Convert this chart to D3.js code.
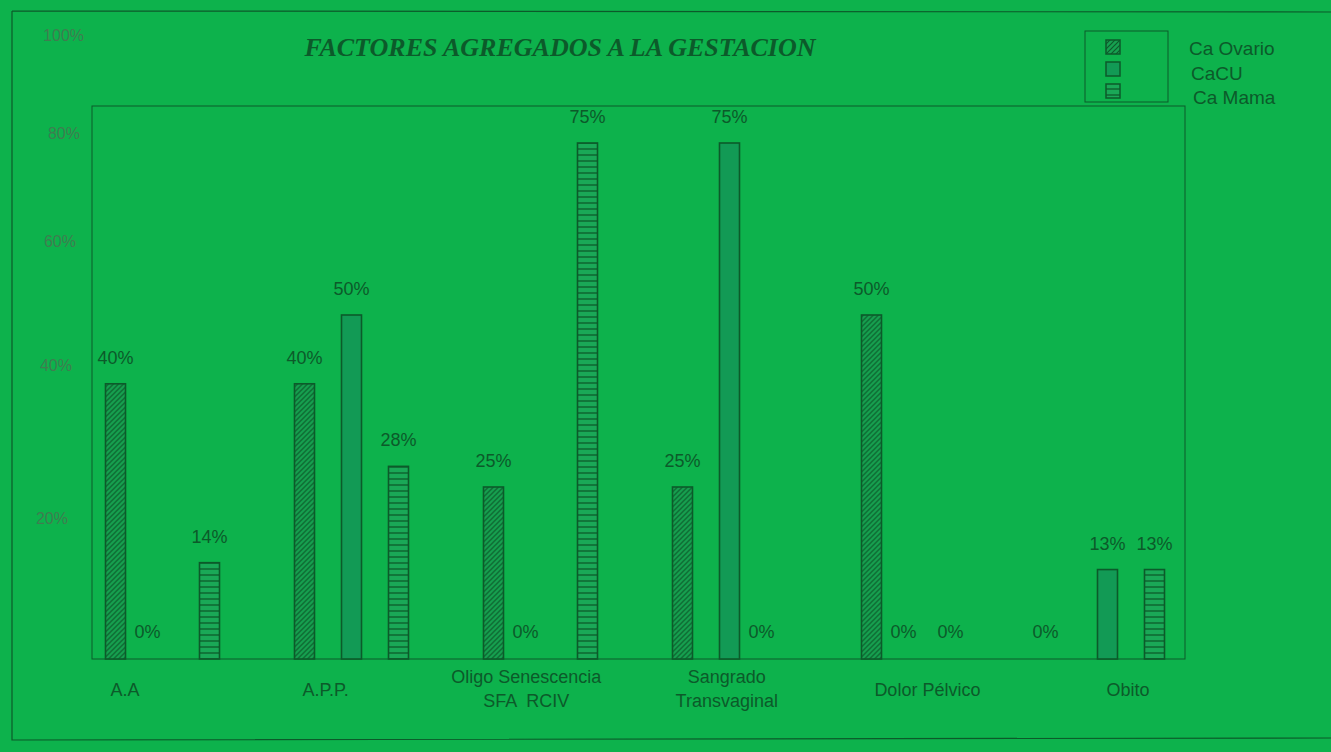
<!DOCTYPE html>
<html>
<head>
<meta charset="utf-8">
<script src="https://cdn.jsdelivr.net/npm/d3@7"></script>
<style>
    body { margin: 0; background: #0db24c; }
    text { font-family: "Liberation Sans", Arial, sans-serif; white-space: pre; }
</style>
</head>
<body>
<svg id="canvas"></svg>
<script>
// ########## Data ##########
var categories = ["A.A", "A.P.P.", "Oligo Senescencia|SFA  RCIV", "Sangrado|Transvaginal", "Dolor Pélvico", "Obito"];
var series = ["Ca Ovario", "CaCU", "Ca Mama"];
var caOvario = [40, 40, 25, 25, 50, 0];
var caCU = [0, 50, 0, 75, 0, 13];
var caMama = [14, 28, 75, 0, 0, 13];
var tickLabels = [20, 40, 60, 80, 100];

var w = 1331, h = 752;
var dark = "#0c5a2a";

var svg = d3.select("#canvas")
    .attr("width", w)
    .attr("height", h);

svg.append("rect")
    .attr("width", w).attr("height", h)
    .attr("fill", "#0db24c");

// ########## Patterns ##########
var defs = svg.append("defs");

var diag = defs.append("pattern")
    .attr("id", "pat-ovario")
    .attr("patternUnits", "userSpaceOnUse")
    .attr("width", 5).attr("height", 5);
diag.append("rect").attr("width", 5).attr("height", 5).attr("fill", "#16a150");
diag.append("path")
    .attr("d", "M-1,1 l2,-2 M0,5 l5,-5 M4,6 l2,-2")
    .attr("stroke", dark).attr("stroke-width", 1.2);

var horiz = defs.append("pattern")
    .attr("id", "pat-mama")
    .attr("patternUnits", "userSpaceOnUse")
    .attr("width", 6).attr("height", 6);
horiz.append("rect").attr("width", 6).attr("height", 6).attr("fill", "#1aa857");
horiz.append("line")
    .attr("x1", 0).attr("y1", 5).attr("x2", 6).attr("y2", 5)
    .attr("stroke", dark).attr("stroke-width", 1.3);

var fills = {
    "Ca Ovario": "url(#pat-ovario)",
    "CaCU": "#129a55",
    "Ca Mama": "url(#pat-mama)"
};

var table = categories.map(function (c, i) {
    return {
        cat: c,
        values: [
            { s: "Ca Ovario", v: caOvario[i] },
            { s: "CaCU", v: caCU[i] },
            { s: "Ca Mama", v: caMama[i] }
        ]
    };
});

// ########## Scales ##########
var x0 = d3.scaleBand().domain(categories).range([68, 1202]);
var x1 = d3.scalePoint().domain(series).range([-47, 47]);
var y = d3.scaleLinear().domain([0, 75]).range([659, 143]);
var yTick = d3.scalePow().exponent(0.6).domain([20, 100]).range([518, 35]);
var yTickX = d3.scaleLinear().domain([20, 100]).range([68, 84]);
var xLabel = d3.scalePoint().domain(categories).range([125, 1128]);
var barW = 20;

// ########## Frames ##########
svg.append("path")
    .attr("d", "M12,11 L1331,12 M12,11 L12,740 L1331,738")
    .attr("fill", "none").attr("stroke", dark).attr("stroke-width", 1.2);

svg.append("rect")
    .attr("x", 92).attr("y", 106)
    .attr("width", 1093).attr("height", y(0) - 106)
    .attr("fill", "none").attr("stroke", dark).attr("stroke-width", 1);

// ########## Title ##########
svg.append("text")
    .attr("x", 560).attr("y", 56)
    .attr("text-anchor", "middle")
    .style("font-family", "'Liberation Serif', 'Times New Roman', serif")
    .style("font-style", "italic").style("font-weight", "bold")
    .style("font-size", "26px")
    .attr("fill", dark)
    .text("FACTORES AGREGADOS A LA GESTACION");

// ########## Y tick labels ##########
svg.selectAll(".ytick")
    .data(tickLabels).enter()
    .append("text")
    .attr("class", "ytick")
    .attr("x", function (d) { return yTickX(d); })
    .attr("y", function (d) { return yTick(d) + 6; })
    .attr("text-anchor", "end")
    .style("font-size", "16px")
    .attr("fill", "#3f7d50")
    .text(function (d) { return d + "%"; });

// ########## Bars ##########
var group = svg.selectAll(".group")
    .data(table).enter()
    .append("g")
    .attr("class", "group")
    .attr("transform", function (d) { return "translate(" + (x0(d.cat) + x0.bandwidth() / 2) + ",0)"; });

group.selectAll("rect")
    .data(function (d) { return d.values.filter(function (e) { return e.v > 0; }); }).enter()
    .append("rect")
    .attr("x", function (d) { return x1(d.s) - barW / 2; })
    .attr("y", function (d) { return y(d.v); })
    .attr("width", barW)
    .attr("height", function (d) { return y(0) - y(d.v); })
    .attr("fill", function (d) { return fills[d.s]; })
    .attr("stroke", dark).attr("stroke-width", 1.6);

group.selectAll(".val")
    .data(function (d) { return d.values; }).enter()
    .append("text")
    .attr("class", "val")
    .attr("x", function (d) { return x1(d.s) + (d.v > 0 ? 0 : -15); })
    .attr("y", function (d) { return d.v > 0 ? y(d.v) - 20 : y(0) - 21; })
    .attr("text-anchor", "middle")
    .style("font-size", "18px")
    .attr("fill", dark)
    .text(function (d) { return d.v + "%"; });

// ########## Category labels ##########
svg.selectAll(".cat")
    .data(categories).enter()
    .append("text")
    .attr("class", "cat")
    .attr("text-anchor", "middle")
    .style("font-size", "18px")
    .attr("fill", dark)
    .each(function (d) {
        var lines = d.split("|");
        var t = d3.select(this);
        var top = lines.length > 1 ? 683 : 696;
        lines.forEach(function (l, i) {
            t.append("tspan")
                .attr("x", xLabel(d))
                .attr("y", top + i * 24)
                .text(l);
        });
    });

// ########## Legend ##########
var legend = svg.append("g");
legend.append("rect")
    .attr("x", 1085).attr("y", 31)
    .attr("width", 83).attr("height", 71)
    .attr("fill", "none").attr("stroke", dark).attr("stroke-width", 1);

var ly = d3.scalePoint().domain(series).range([47, 91]);

legend.selectAll(".sw")
    .data(series).enter()
    .append("rect")
    .attr("class", "sw")
    .attr("x", 1106).attr("y", function (d) { return ly(d) - 7; })
    .attr("width", 14).attr("height", 14)
    .attr("fill", function (d) { return fills[d]; })
    .attr("stroke", dark).attr("stroke-width", 1.5);

legend.selectAll(".lt")
    .data(series).enter()
    .append("text")
    .attr("class", "lt")
    .attr("x", function (d, i) { return 1189 + i * 2; })
    .attr("y", function (d, i) { return 55 + i * 24.5; })
    .style("font-size", "19px")
    .attr("fill", dark)
    .text(function (d) { return d; });
</script>
</body>
</html>
